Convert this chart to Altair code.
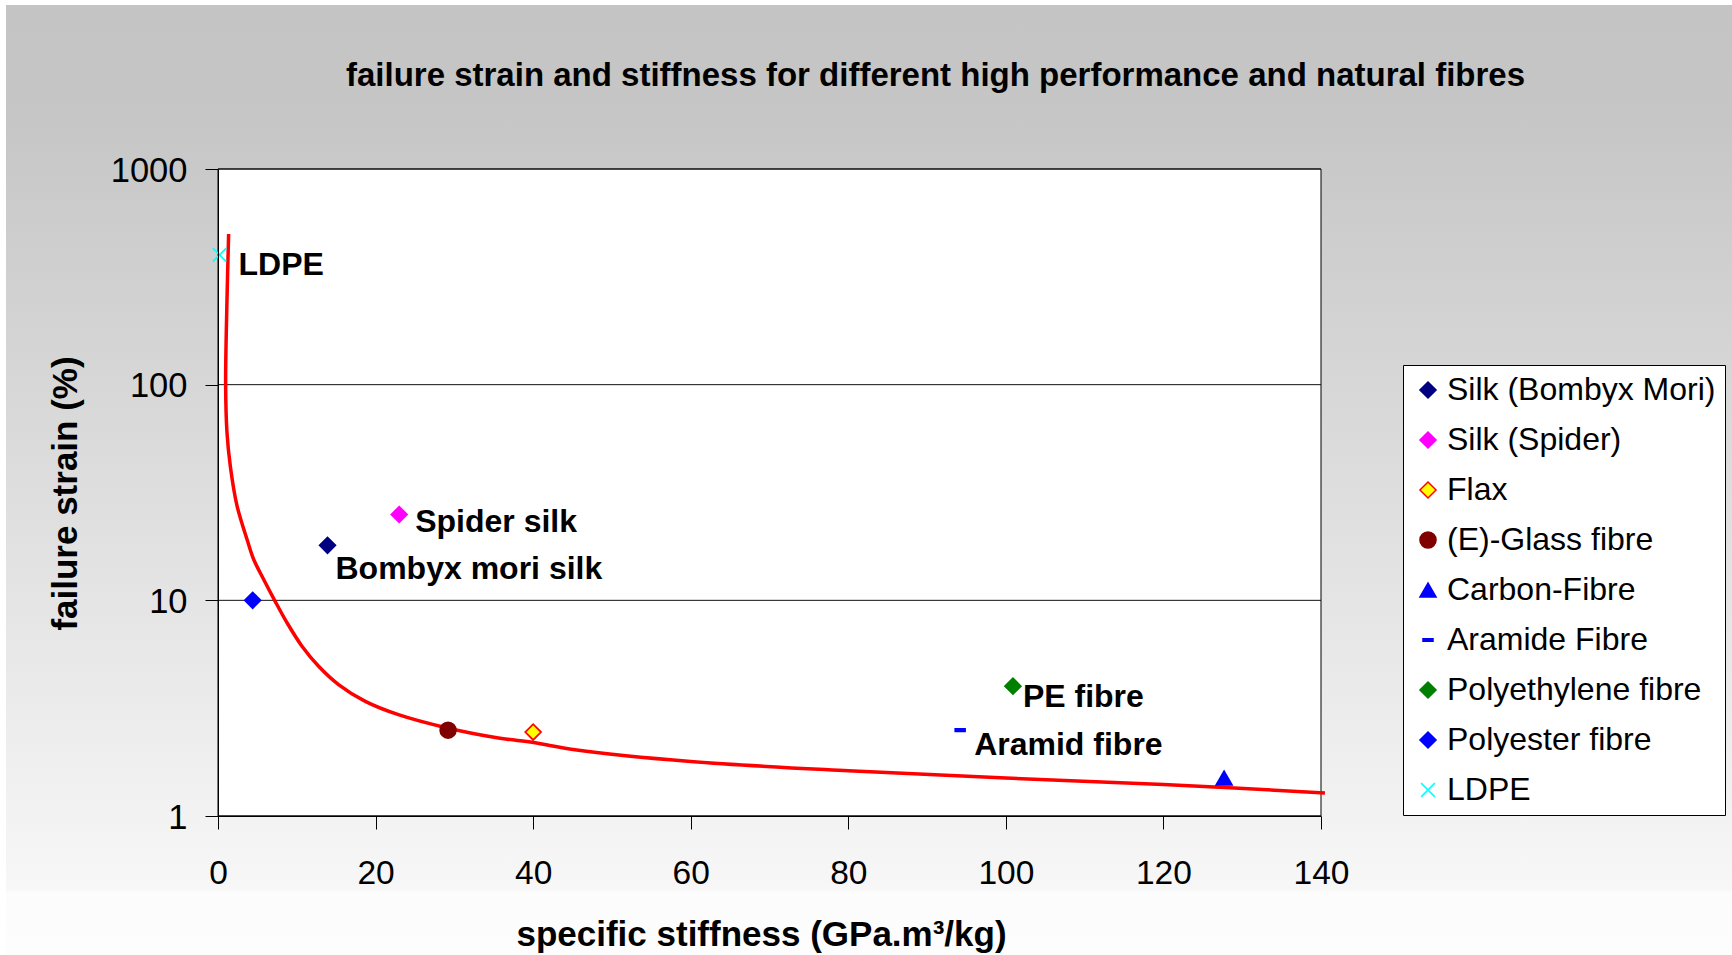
import altair as alt
import pandas as pd

FONT = "Liberation Sans"

# ---- data ----
materials = ["Silk (Bombyx Mori)", "Silk (Spider)", "Flax", "(E)-Glass fibre", "Carbon-Fibre",
             "Aramide Fibre", "Polyethylene fibre", "Polyester fibre", "LDPE"]
stiffness = [13.9, 23.0, 40.0, 29.2, 127.7, 94.2, 100.9, 4.4, 0.2]
strain = [18, 25, 2.45, 2.5, 1.5, 2.5, 4.0, 10, 400]

fill_colors = ["#000080", "#FF00FF", "#FFFF00", "#800000", "#0000FF",
               "#0000FF", "#008000", "#0000FF", "#00FFFF"]
stroke_colors = ["#000080", "#FF00FF", "#FF0000", "#800000", "#0000FF",
                 "#0000FF", "#008000", "#0000FF", "#00FFFF"]
DASH = "M-0.62,-0.16L0.62,-0.16L0.62,0.16L-0.62,0.16Z"
XMARK = "M-0.85,-0.85L0.85,0.85M-0.85,0.85L0.85,-0.85"
shapes = ["diamond", "diamond", "diamond", "circle", "triangle-up",
          DASH, "diamond", "diamond", XMARK]

label_materials = ["LDPE", "Silk (Spider)", "Silk (Bombyx Mori)", "Polyethylene fibre", "Aramide Fibre"]
label_texts = ["LDPE", "Spider silk", "Bombyx mori silk", "PE fibre", "Aramid fibre"]
label_dx = [19, 16, 8, 10, 14]
label_dy = [10, 7, 24, 11, 15]

curve_x = [1.35, 1.14, 0.97, 1.14, 1.56, 2.41, 3.68, 4.52, 5.8, 7.19, 8.76, 10.66, 12.77,
           15.3, 18.7, 22.9, 29.1, 35.6, 40.05, 45.3, 60, 80, 100, 120, 140.5]
curve_y = [500, 246, 100, 60, 42, 27.5, 19.2, 15.5, 12.5, 10, 7.87, 6.13, 4.95,
           4.07, 3.40, 2.95, 2.56, 2.30, 2.19, 2.03, 1.79, 1.62, 1.50, 1.40, 1.28]

x_ticks = [0, 20, 40, 60, 80, 100, 120, 140]
y_ticks = [1, 10, 100, 1000]

TITLE = "failure strain and stiffness for different high performance and natural fibres"

W, H = 1103, 647
PAD_L, PAD_T = 218, 169

# ---- tables ----
df_points = pd.DataFrame({"material": materials, "stiffness": stiffness, "strain": strain})
df_curve = pd.DataFrame({"idx": list(range(len(curve_x))), "stiffness": curve_x, "strain": curve_y})
df_grid = pd.DataFrame({"strain": y_ticks})

x_axis = alt.Axis(values=x_ticks, format="d", grid=False, tickSize=13, tickColor="black",
                  domainColor="black", labelPadding=28, labelFont=FONT, labelFontSize=33.5,
                  labelColor="black", labelFlush=False, labelOverlap=False,
                  title="specific stiffness (GPa.m³/kg)", titleFont=FONT, titleFontSize=35,
                  titleFontWeight="bold", titleColor="black", titleX=543, titleY=118.5,
                  titleBaseline="middle", titleAlign="center", zindex=1)
y_axis = alt.Axis(values=y_ticks, format="d", grid=False, tickSize=13, tickColor="black",
                  domainColor="black", labelPadding=18, labelOffset=2, labelFont=FONT,
                  labelFontSize=34.5, labelColor="black", labelFlush=False, labelOverlap=False,
                  title="failure strain (%)", titleFont=FONT, titleFontSize=35,
                  titleFontWeight="bold", titleColor="black", titleX=-153, titleY=324,
                  titleAngle=270, titleBaseline="middle", titleAlign="center", zindex=1)

x_scale = alt.Scale(domain=[0, 140], nice=False, zero=False)
y_scale = alt.Scale(type="log", domain=[1, 1000], nice=False)

def xenc():
    return alt.X("stiffness:Q", scale=x_scale, axis=x_axis)

def yenc():
    return alt.Y("strain:Q", scale=y_scale, axis=y_axis)

one = alt.Data(values=[{}])

gradient = alt.Gradient(
    gradient="linear", x1=0, x2=0, y1=0, y2=1,
    stops=[alt.GradientStop(offset=0, color="#c4c4c4"),
           alt.GradientStop(offset=0.12, color="#c6c6c6"),
           alt.GradientStop(offset=0.93, color="#f7f7f7"),
           alt.GradientStop(offset=0.935, color="#fcfcfc"),
           alt.GradientStop(offset=1, color="#fdfdfd")])

bg = alt.Chart(one).mark_rect(fill=gradient).encode(
    x=alt.value(6 - PAD_L), x2=alt.value(1732 - PAD_L),
    y=alt.value(5 - PAD_T), y2=alt.value(955 - PAD_T))

plot_bg = alt.Chart(one).mark_rect(fill="white", stroke="black", strokeWidth=1).encode(
    x=alt.value(0), x2=alt.value(W), y=alt.value(0), y2=alt.value(H))

title_mark = alt.Chart(one).mark_text(
    text=TITLE, font=FONT, fontSize=33, fontWeight="bold", color="black",
    align="center", baseline="middle").encode(
    x=alt.value(935.5 - PAD_L), y=alt.value(76 - PAD_T))

grid = alt.Chart(df_grid).mark_rule(color="#111111", strokeWidth=1).encode(y=yenc())

curve = alt.Chart(df_curve).mark_line(color="#FF0000", strokeWidth=3.5,
                                      interpolate="catmull-rom").encode(
    x=xenc(), y=yenc(), order=alt.Order("idx:Q"))

legend = alt.Legend(title=None, orient="none", legendX=1185, legendY=196, padding=9,
                    rowPadding=18, labelFont=FONT, labelFontSize=32, labelColor="black",
                    labelLimit=600, labelOffset=3, symbolOffset=0, symbolSize=260,
                    symbolStrokeWidth=1.5, strokeColor="black", fillColor="white")

points = alt.Chart(df_points).mark_point(size=250, strokeWidth=1.7, opacity=1).encode(
    x=xenc(), y=yenc(),
    fill=alt.Fill("material:N", scale=alt.Scale(domain=materials, range=fill_colors), legend=legend),
    stroke=alt.Stroke("material:N", scale=alt.Scale(domain=materials, range=stroke_colors), legend=legend),
    shape=alt.Shape("material:N", scale=alt.Scale(domain=materials, range=shapes), legend=legend),
)

labels = []
for mat, txt, dx, dy in zip(label_materials, label_texts, label_dx, label_dy):
    i = materials.index(mat)
    d = pd.DataFrame({"stiffness": [stiffness[i]], "strain": [strain[i]], "label": [txt]})
    labels.append(
        alt.Chart(d).mark_text(align="left", baseline="middle", dx=dx, dy=dy, font=FONT,
                               fontSize=32, fontWeight="bold", color="black").encode(
            x=xenc(), y=yenc(), text="label:N"))

chart = alt.layer(bg, plot_bg, title_mark, grid, curve, points, *labels).properties(
    width=W, height=H,
    padding={"left": PAD_L, "top": PAD_T, "right": 1732 - PAD_L - W, "bottom": 955 - PAD_T - H},
    autosize=alt.AutoSizeParams(type="none"),
    background="white",
).configure_view(stroke=None)

chart.save("out.html", embed_options={"renderer": "svg", "actions": False})
